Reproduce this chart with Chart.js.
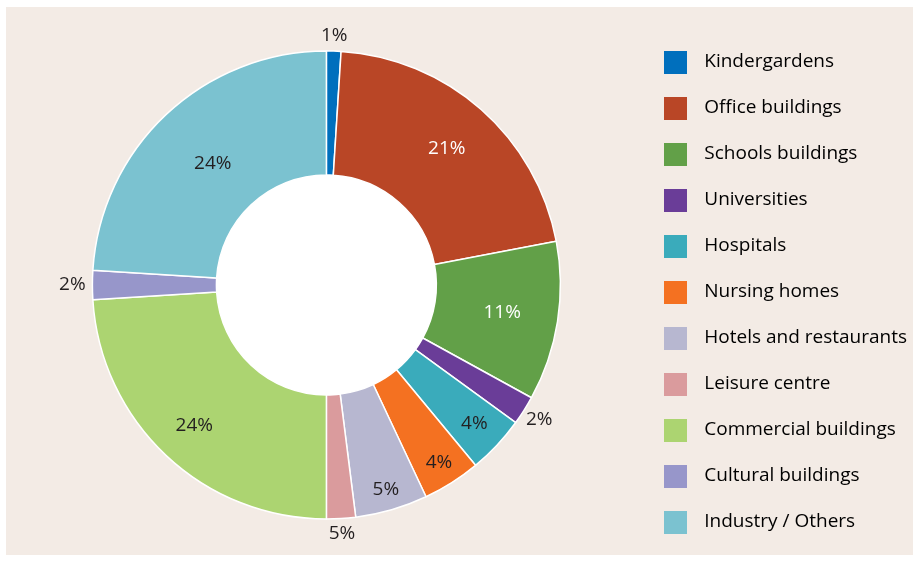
<!DOCTYPE html>
<html>
<head>
<meta charset="utf-8">
<script src="https://cdn.jsdelivr.net/npm/chart.js@4.4.0/dist/chart.umd.min.js"></script>
<style>
  html, body { margin: 0; padding: 0; background: #ffffff; }
  #panel {
    position: absolute; left: 6px; top: 7px; width: 907px; height: 548px;
    background: #f3ebe5;
  }
  #wrap { position: absolute; left: 0; top: 0; width: 913px; height: 562px; }
</style>
</head>
<body>
<div id="panel"></div>
<div id="wrap"><canvas id="donut" width="913" height="562"></canvas></div>
<script>
// data
const categories = [
  'Kindergardens', 'Office buildings', 'Schools buildings', 'Universities',
  'Hospitals', 'Nursing homes', 'Hotels and restaurants', 'Leisure centre',
  'Commercial buildings', 'Cultural buildings', 'Industry / Others'
];
const shares = [1, 21, 11, 2, 4, 4, 5, 2, 24, 2, 24];
const shareLabels = ['1%', '21%', '11%', '2%', '4%', '4%', '5%', '5%', '24%', '2%', '24%'];
const colors = [
  '#006fbd', '#b94626', '#62a048', '#6a3d98', '#3aabbb', '#f47121',
  '#b7b7d0', '#da9b9d', '#acd471', '#9796ca', '#7bc2d0'
];

// label radius (px from centre) and text colour per slice
const labelRadius = [250, 182, 178, 252, 203, 210, 213, 249, 193, 254, 166];
const labelColor = ['#231f20', '#ffffff', '#ffffff', '#231f20', '#231f20', '#231f20',
  '#231f20', '#231f20', '#231f20', '#231f20', '#231f20'];

const FONT = "'Open Sans', 'Noto Sans', sans-serif";

// little square used as legend marker
function makeSwatch(color) {
  const c = document.createElement('canvas');
  c.width = 23; c.height = 23;
  const g = c.getContext('2d');
  g.fillStyle = color;
  g.fillRect(0, 0, 23, 23);
  return c;
}
const swatches = colors.map(makeSwatch);

const holePlugin = {
  id: 'hole',
  beforeDatasetsDraw(chart) {
    const arc = chart.getDatasetMeta(0).data[0];
    if (!arc) return;
    const { x, y, innerRadius } = arc.getProps(['x', 'y', 'innerRadius'], true);
    const ctx = chart.ctx;
    ctx.save();
    ctx.fillStyle = '#ffffff';
    ctx.beginPath();
    ctx.arc(x, y, innerRadius + 1, 0, Math.PI * 2);
    ctx.fill();
    ctx.restore();
  }
};

// nudge the legend a little lower than the doughnut centre
const legendShift = {
  id: 'legendShift',
  afterLayout(chart) {
    if (chart.legend) {
      chart.legend.top += 7;
      chart.legend.bottom += 7;
    }
  }
};

const sliceLabels = {
  id: 'sliceLabels',
  afterDatasetsDraw(chart) {
    const ctx = chart.ctx;
    ctx.save();
    ctx.font = '19px ' + FONT;
    ctx.textAlign = 'center';
    ctx.textBaseline = 'middle';
    chart.getDatasetMeta(0).data.forEach((arc, i) => {
      const p = arc.getProps(['x', 'y', 'startAngle', 'endAngle'], true);
      const mid = (p.startAngle + p.endAngle) / 2;
      const r = labelRadius[i];
      ctx.fillStyle = labelColor[i];
      ctx.fillText(shareLabels[i], p.x + Math.cos(mid) * r, p.y + Math.sin(mid) * r);
    });
    ctx.restore();
  }
};

new Chart(document.getElementById('donut'), {
  type: 'doughnut',
  data: {
    labels: categories,
    datasets: [{
      data: shares,
      backgroundColor: colors,
      borderColor: '#ffffff',
      borderWidth: 1.5,
      radius: 234,
      cutout: '47%'
    }]
  },
  options: {
    responsive: false,
    animation: false,
    layout: { padding: { left: 23, right: -4, top: 14, bottom: 6 } },
    plugins: {
      tooltip: { enabled: false },
      legend: {
        position: 'right',
        align: 'center',
        labels: {
          usePointStyle: true,
          pointStyleWidth: 38,
          padding: 27,
          color: '#231f20',
          font: { family: FONT, size: 19 },
          generateLabels(chart) {
            return categories.map((name, i) => ({
              text: name,
              fillStyle: colors[i],
              strokeStyle: colors[i],
              lineWidth: 0,
              pointStyle: swatches[i],
              hidden: false,
              index: i,
              datasetIndex: 0
            }));
          }
        }
      }
    }
  },
  plugins: [holePlugin, legendShift, sliceLabels]
});
</script>
</body>
</html>
